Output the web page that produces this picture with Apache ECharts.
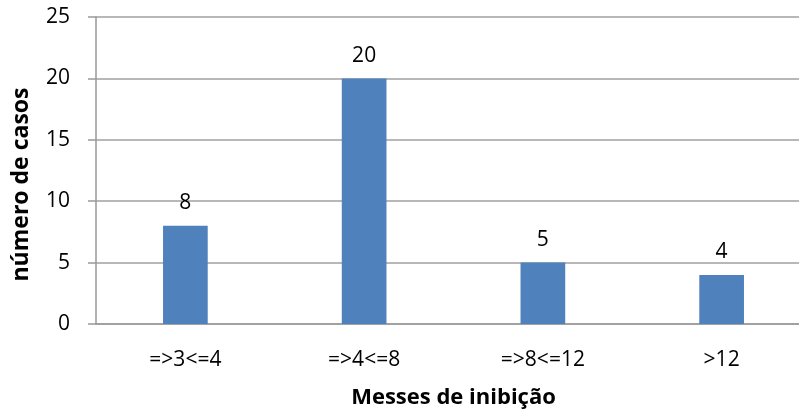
<!DOCTYPE html>
<html>
<head>
<meta charset="utf-8">
<script src="https://cdn.jsdelivr.net/npm/echarts@6/dist/echarts.min.js"></script>
<style>html,body{margin:0;padding:0;background:#fff}#c{width:799px;height:414px}</style>
</head>
<body>
<div id="c"></div>
<script>
const categories = ['=>3<=4', '=>4<=8', '=>8<=12', '>12'];
const casos = [8, 20, 5, 4];
const yTicks = [0, 5, 10, 15, 20, 25];
const xTitle = 'Messes de inibição';
const yTitle = 'número de casos';

const font = '"Open Sans", "Liberation Sans", sans-serif';
const chart = echarts.init(document.getElementById('c'), null, {renderer: 'canvas'});
chart.setOption({
  animation: false,
  textStyle: {fontFamily: font},
  grid: {left: 96, right: -12, top: 17, bottom: 90, containLabel: false, outerBoundsMode: 'none'},
  xAxis: {
    type: 'category',
    data: categories,
    axisLine: {show: true, lineStyle: {color: '#999', width: 1.5}},
    axisTick: {show: false},
    axisLabel: {color: '#000', fontSize: 21, margin: 26, fontFamily: font},
    name: xTitle,
    nameLocation: 'middle',
    nameGap: 63,
    nameTextStyle: {color: '#000', fontSize: 22, fontWeight: 'bold', fontFamily: font}
  },
  yAxis: {
    type: 'value',
    min: yTicks[0],
    max: yTicks[yTicks.length - 1],
    interval: 5,
    axisLine: {show: true, lineStyle: {color: '#999', width: 1.5}},
    axisTick: {show: true, length: 8, inside: false, lineStyle: {color: '#999', width: 1.5}},
    splitLine: {show: true, lineStyle: {color: '#a0a0a0', width: 1.5}},
    axisLabel: {color: '#000', fontSize: 21, margin: 26, fontFamily: font},
    name: yTitle,
    nameLocation: 'middle',
    nameGap: 63,
    nameRotate: 90,
    nameTextStyle: {color: '#000', fontSize: 23, fontWeight: 'bold', fontFamily: font, padding: [0, 28, 0, 0]}
  },
  series: [{
    type: 'bar',
    data: casos,
    barWidth: '25%',
    itemStyle: {color: '#4F81BD'},
    label: {show: true, position: 'top', distance: 12, color: '#000', fontSize: 21, fontFamily: font}
  }]
});
</script>
</body>
</html>
